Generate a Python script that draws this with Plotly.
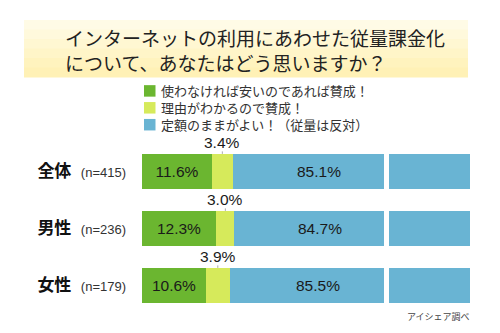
import plotly.graph_objects as go

# ---- data ----
groups = ["全体", "男性", "女性"]
sample_sizes = ["n=415", "n=236", "n=179"]
series_names = ["使わなければ安いのであれば賛成！", "理由がわかるので賛成！", "定額のままがよい！（従量は反対）"]
agree_cheap = [11.6, 12.3, 10.6]
agree_reason = [3.4, 3.0, 3.9]
keep_flat = [85.1, 84.7, 85.5]
title_lines = ["インターネットの利用にあわせた従量課金化", "について、あなたはどう思いますか？"]
source_text = "アイシェア調べ"

# ---- style ----
W, H = 500, 333
colors = ["#6bb630", "#d6ea5b", "#69b4d3"]
px_per_pct = 6.04
bar_w = 0.6
x_left = (142, 384)
x_right = (389, 470)
left_max = (x_left[1] - x_left[0]) / px_per_pct
right_min = 100 - (x_right[1] - x_right[0]) / px_per_pct
num_font = "Liberation Sans, Arial, Noto Sans CJK JP, sans-serif"
jp_font = "Noto Sans CJK JP, sans-serif"

def px(x):
    return x / W

def py(y):
    return 1 - y / H

series = [agree_cheap, agree_reason, keep_flat]
ticktext = [
    f"<b>{g}</b>\u00a0\u00a0<span style='font-size:13px;color:#333'>({n})</span>"
    for g, n in zip(groups, sample_sizes)
]

fig = go.Figure()
for axis in ["x", "x2"]:
    for k, (name, vals) in enumerate(zip(series_names, series)):
        show_text = (axis == "x" and k == 0)
        fig.add_trace(go.Bar(
            y=groups, x=vals, orientation="h", name=name,
            xaxis=axis, yaxis="y", width=bar_w,
            marker=dict(color=colors[k], line=dict(width=0)),
            text=[f"{v:.1f}%" for v in vals] if show_text else None,
            textposition="inside" if show_text else "none",
            insidetextanchor="middle",
            textfont=dict(family=num_font, size=15.5, color="#1a1a1a"),
            showlegend=False, hoverinfo="skip",
        ))

annotations = []
shapes = []

# title box with a soft vertical gradient (bands)
band_colors = ["#fffbe6", "#fff9dc", "#fff7d2", "#fff5c8", "#fff3be", "#fff1b6"]
top, bottom = 20, 77
step = (bottom - top) / len(band_colors)
for j, c in enumerate(band_colors):
    shapes.append(dict(type="rect", xref="paper", yref="paper",
                       x0=px(24), x1=px(468),
                       y0=py(top + (j + 1) * step + 0.5), y1=py(top + j * step),
                       fillcolor=c, line=dict(width=0), layer="below"))
annotations.append(dict(text="<br>".join(title_lines), xref="paper", yref="paper",
                        x=px(63), y=py(50), xanchor="left", yanchor="middle",
                        align="left", showarrow=False,
                        font=dict(family=jp_font, size=19, color="#222")))

# legend (single text block; squares aligned with its lines)
leg_size = 13
leg_center = 107.8
leg_step = leg_size * 1.3
annotations.append(dict(text="<br>".join(series_names), xref="paper", yref="paper",
                        x=px(159), y=py(leg_center), xanchor="left", yanchor="middle",
                        align="left", showarrow=False,
                        font=dict(family=jp_font, size=leg_size, color="#333")))
for k in range(len(series_names)):
    yc = leg_center + (k - 1) * leg_step
    shapes.append(dict(type="rect", xref="paper", yref="paper",
                       x0=px(144), x1=px(155.5), y0=py(yc + 5.75), y1=py(yc - 5.75),
                       fillcolor=colors[k], line=dict(width=0)))

# labels
for i, g in enumerate(groups):
    base = agree_cheap[i]
    annotations.append(dict(text=f"{agree_reason[i]:.1f}%", x=base + agree_reason[i] / 2,
                            y=i - bar_w / 2, xref="x", yref="y",
                            showarrow=True, arrowhead=0, arrowwidth=1, arrowcolor="#aaa",
                            ax=0, ay=-11.5, standoff=0, borderpad=0,
                            font=dict(family=num_font, size=15.5, color="#1a1a1a")))
    start = agree_cheap[i] + agree_reason[i]
    annotations.append(dict(text=f"{keep_flat[i]:.1f}%", x=(start + left_max) / 2, y=i,
                            xref="x", yref="y", showarrow=False, xshift=11,
                            font=dict(family=num_font, size=15.5, color="#1a1a1a")))

annotations.append(dict(text=source_text, xref="paper", yref="paper",
                        x=px(472), y=py(316), xanchor="right", yanchor="middle",
                        showarrow=False, font=dict(family=jp_font, size=9, color="#444")))

axis_common = dict(showgrid=False, zeroline=False, showticklabels=False,
                   showline=False, ticks="", fixedrange=True)

fig.update_layout(
    width=W, height=H, margin=dict(l=0, r=0, t=0, b=0),
    paper_bgcolor="white", plot_bgcolor="rgba(0,0,0,0)",
    barmode="stack", bargap=0,
    xaxis=dict(domain=[px(x_left[0]), px(x_left[1])], range=[0, left_max], anchor="y", **axis_common),
    xaxis2=dict(domain=[px(x_right[0]), px(x_right[1])], range=[right_min, 100], anchor="y", **axis_common),
    yaxis=dict(domain=[py(313.5), py(142.5)], range=[2.5, -0.5], anchor="x",
               tickmode="array", tickvals=groups, ticktext=ticktext,
               tickfont=dict(family=num_font, size=17, color="#111"),
               showgrid=False, zeroline=False, showline=False, ticks="",
               ticklabelstandoff=15, fixedrange=True),
    shapes=shapes, annotations=annotations, showlegend=False,
)

fig.write_html("out.html")
